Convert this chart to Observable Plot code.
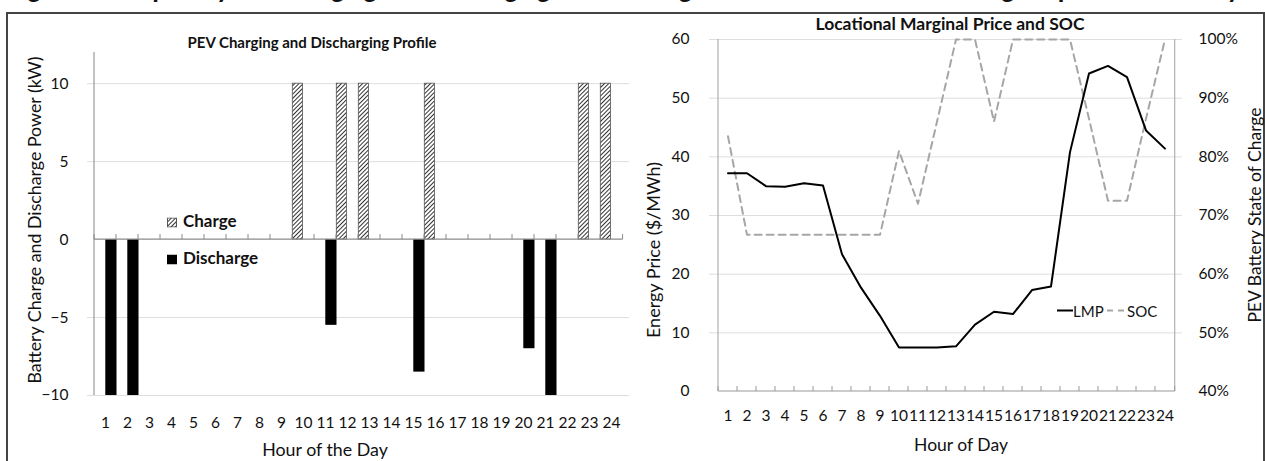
<!DOCTYPE html>
<html><head><meta charset="utf-8">
<script src="https://cdn.jsdelivr.net/npm/d3@7"></script>
<script src="https://cdn.jsdelivr.net/npm/@observablehq/plot@0.6"></script>
<style>
body{margin:0;background:#fff;overflow:hidden;font-family:Lato,"Noto Sans",sans-serif;color:#111}
#wrap{position:relative;width:1265px;height:461px;overflow:hidden;background:#fff}
.abs{position:absolute;white-space:nowrap;line-height:1}
.c{transform:translate(-50%,-50%)}
.r{transform:translate(-50%,-50%) rotate(-90deg)}
.lm{transform:translate(0,-50%)}
svg.chart{position:absolute;top:0}
</style></head><body><div id="wrap">
<div class="abs" style="left:8px;top:-23px;font-size:24px;font-weight:900;color:#111">Figure 6. Sample day PEV charging and discharging schedule together with the locational marginal price and battery state of charge</div>
<div class="abs" style="left:6px;top:12px;width:1259px;height:470px;border:2px solid #444;box-sizing:border-box"></div>
<div id="left"></div>
<div id="right"></div>
<div class="abs c" style="left:312px;top:42px;font-size:15px;font-weight:700;color:#111">PEV Charging and Discharging Profile</div>
<div class="abs r" style="left:35px;top:220px;font-size:17.8px">Battery Charge and Discharge Power (kW)</div>
<div class="abs c" style="left:325px;top:450px;font-size:17.8px">Hour of the Day</div>
<div class="abs lm" style="left:167px;top:220px;font-size:17px;font-weight:700;color:#111"><svg width="10" height="10" style="vertical-align:-1px;margin-right:6px"><rect x="0.5" y="0.5" width="9" height="9" fill="url(#hatchL)" stroke="#555"/></svg>Charge</div>
<div class="abs lm" style="left:167px;top:257px;font-size:17px;font-weight:700;color:#111"><svg width="10" height="10" style="vertical-align:-1px;margin-right:6px"><rect x="0" y="0" width="10" height="10" fill="#000"/></svg>Discharge</div>
<div class="abs c" style="left:950px;top:24px;font-size:17.5px;font-weight:700;color:#111">Locational Marginal Price and SOC</div>
<div class="abs r" style="left:653px;top:250px;font-size:18px">Energy Price ($/MWh)</div>
<div class="abs r" style="left:1255px;top:215px;font-size:17.5px">PEV Battery State of Charge</div>
<div class="abs c" style="left:961px;top:445px;font-size:17.5px">Hour of Day</div>
<div class="abs lm" style="left:1057px;top:311px;font-size:15px"><svg width="16" height="4" style="vertical-align:4px"><line x1="0" y1="2" x2="16" y2="2" stroke="#000" stroke-width="2"/></svg>LMP <svg width="20" height="4" style="vertical-align:4px"><line x1="0" y1="2" x2="20" y2="2" stroke="#a6a6a6" stroke-width="2" stroke-dasharray="6,5"/></svg>SOC</div>
</div>
<script>
// ---- data ----
const hours = [1,2,3,4,5,6,7,8,9,10,11,12,13,14,15,16,17,18,19,20,21,22,23,24];
const charge    = [0,0,0,0,0,0,0,0,0,10,0,10,10,0,0,10,0,0,0,0,0,0,10,10];
const discharge = [-10,-10,0,0,0,0,0,0,0,0,-5.5,0,0,0,-8.5,0,0,0,0,-7,-10,0,0,0];
const powerTicks = [-10,-5,0,5,10];
const lmp = [37.2,37.2,35.0,34.9,35.5,35.1,23.4,17.7,12.9,7.5,7.5,7.5,7.7,11.4,13.6,13.2,17.3,17.9,40.8,54.2,55.5,53.6,44.5,41.4];
const soc = [83.5,66.7,66.7,66.7,66.7,66.7,66.7,66.7,66.7,81,72,86,100,100,86,100,100,100,100,86.5,72.5,72.5,86.5,100];
const priceTicks = [0,10,20,30,40,50,60];
const socTicks = [40,50,60,70,80,90,100];

const chargeRows = hours.map((h,i)=>({hour:h, value:charge[i]})).filter(d=>d.value!==0);
const dischargeRows = hours.map((h,i)=>({hour:h, value:discharge[i]})).filter(d=>d.value!==0);
const priceRows = hours.map((h,i)=>({hour:h, lmp:lmp[i], soc:soc[i]}));

const font = {fontFamily:"Lato, 'Noto Sans', sans-serif", fontSize:"15.5px", color:"#111", background:"transparent", overflow:"visible"};

// ---- left chart ----
const LW = 640, LH = 461, LML = 87, LMR = 11, LMT = 52, LMB = 66;
const lbw = (LW - LML - LMR) / hours.length;
const left = Plot.plot({
  width: LW, height: LH, marginLeft: LML, marginRight: LMR, marginTop: LMT, marginBottom: LMB,
  style: font,
  x: {type:"band", domain: hours, padding: 0, label: null},
  y: {domain:[-10,12], label: null},
  marks: [
    Plot.ruleY(powerTicks.filter(d=>d!==0), {stroke:"#dedede", strokeWidth:1}),
    Plot.barY(chargeRows, {x:"hour", y:"value", fill:"url(#hatchL)", stroke:"#555", strokeWidth:0.8, insetRight: lbw/2 + 0.2, insetLeft: 0.3}),
    Plot.barY(dischargeRows, {x:"hour", y:"value", fill:"#000", insetLeft: lbw/2, insetRight: -0.5}),
    Plot.axisY({ticks: powerTicks, tickSize:0, tickPadding:19, fontSize:15.5}),
    Plot.axisX({tickSize:0, tickPadding:21, fontSize:15.5})
  ]
});
left.classList.add("chart");
left.style.left = "0px";
document.getElementById("left").appendChild(left);

function addHatch(svg, id){
  const defs = d3.select(svg).insert("defs", ":first-child");
  const p = defs.append("pattern").attr("id", id).attr("patternUnits","userSpaceOnUse")
    .attr("width",3).attr("height",3).attr("patternTransform","rotate(45)");
  p.append("rect").attr("width",3).attr("height",3).attr("fill","#fff");
  p.append("line").attr("x1",0.5).attr("y1",0).attr("x2",0.5).attr("y2",3).attr("stroke","#333").attr("stroke-width",1);
}
addHatch(left, "hatchL");

function decorate(svg, xs, ys, y0, yTop, bw, opts){
  const g = d3.select(svg).append("g").attr("stroke", opts.axisColor).attr("fill","none");
  const x0 = xs.apply(hours[0]);
  const x1 = xs.apply(hours[hours.length-1]) + bw;
  g.append("line").attr("x1",x0).attr("x2",x0).attr("y1",ys.apply(yTop)).attr("y2",ys.apply(opts.yBottom)).attr("stroke-width",1.2);
  if (opts.rightLine) g.append("line").attr("x1",x1).attr("x2",x1).attr("y1",ys.apply(yTop)).attr("y2",ys.apply(opts.yBottom)).attr("stroke-width",1.2);
  const yz = ys.apply(y0);
  g.append("line").attr("x1",x0).attr("x2",x1).attr("y1",yz).attr("y2",yz).attr("stroke", opts.zeroColor).attr("stroke-width",1.2);
  const bounds = hours.map(h => xs.apply(h)).concat([x1]);
  bounds.forEach(bx => g.append("line").attr("x1",bx).attr("x2",bx).attr("y1",yz).attr("y2",yz-5).attr("stroke", opts.zeroColor).attr("stroke-width",1));
}
decorate(left, left.scale("x"), left.scale("y"), 0, 12, lbw, {axisColor:"#9a9a9a", zeroColor:"#8a8a8a", yBottom:-10, rightLine:false});

// ---- right chart ----
const RX = 630, RW = 635, RH = 461, RML = 79, RMR = 83, RMT = 39, RMB = 70;
const rbw = (RW - RML - RMR) / hours.length;
const right = Plot.plot({
  width: RW, height: RH, marginLeft: RML, marginRight: RMR, marginTop: RMT, marginBottom: RMB,
  style: font,
  x: {type:"band", domain: hours, padding: 0, label: null},
  y: {domain:[0,60], label: null},
  marks: [
    Plot.ruleY(priceTicks.filter(d=>d!==0), {stroke:"#dedede", strokeWidth:1}),
    Plot.line(priceRows, {x:"hour", y: d => d.soc - 40, stroke:"#a6a6a6", strokeWidth:2, strokeDasharray:"7,5"}),
    Plot.line(priceRows, {x:"hour", y:"lmp", stroke:"#000", strokeWidth:2}),
    Plot.axisY({anchor:"left", ticks: priceTicks, tickSize:0, tickPadding:20, fontSize:15.5}),
    Plot.axisY({anchor:"right", ticks: socTicks.map(d=>d-40), tickFormat: d => (d+40) + "%", tickSize:0, tickPadding:16, fontSize:15.5}),
    Plot.axisX({tickSize:0, tickPadding:18, fontSize:15.5})
  ]
});
right.classList.add("chart");
right.style.left = RX + "px";
document.getElementById("right").appendChild(right);
decorate(right, right.scale("x"), right.scale("y"), 0, 60, rbw, {axisColor:"#b0b0b0", zeroColor:"#9a9a9a", yBottom:0, rightLine:true});
</script>
</body></html>
